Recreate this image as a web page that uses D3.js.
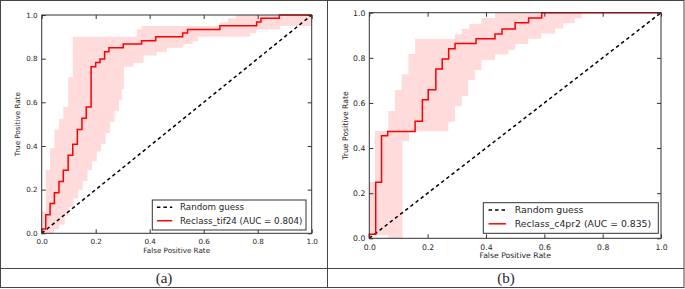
<!DOCTYPE html>
<html>
<head>
<meta charset="utf-8">
<script src="https://cdn.jsdelivr.net/npm/d3@7"></script>
<style>
  body { margin: 0; background: #fff; }
  text { font-family: "DejaVu Sans", sans-serif; fill: #262626; }
</style>
</head>
<body>
<div id="chart"></div>
<script>
// axis ticks shared by both panels
const axisTicks = [0, 0.2, 0.4, 0.6, 0.8, 1.0];

// (a) Reclass_tif24 - mean ROC (step points: fpr, tpr after the jump)
const fprA = [0, 0, 0.015, 0.031, 0.047, 0.064, 0.08, 0.098, 0.115, 0.132, 0.149, 0.165, 0.183, 0.2, 0.216, 0.233, 0.249, 0.302, 0.37, 0.422, 0.522, 0.54, 0.66, 0.796, 0.812, 0.88, 1];
const tprA = [0, 0.02, 0.085, 0.137, 0.186, 0.237, 0.289, 0.357, 0.408, 0.476, 0.527, 0.579, 0.763, 0.782, 0.798, 0.832, 0.85, 0.867, 0.882, 0.9, 0.917, 0.934, 0.951, 0.968, 0.985, 1, 1];
// (a) std band
const upFprA = [0, 0.015, 0.031, 0.047, 0.064, 0.08, 0.098, 0.115, 0.352, 0.37, 0.66, 0.69, 0.72, 1];
const upTprA = [0.1, 0.29, 0.39, 0.475, 0.525, 0.58, 0.715, 0.9, 0.935, 0.95, 0.967, 0.985, 1, 1];
const loFprA = [0, 0.045, 0.065, 0.085, 0.1, 0.117, 0.135, 0.152, 0.17, 0.186, 0.204, 0.22, 0.237, 0.253, 0.27, 0.286, 0.297, 0.305, 0.34, 0.377, 0.426, 0.463, 0.525, 0.559, 0.579, 0.772, 0.796, 0.883, 1];
const loTprA = [0, 0.02, 0.04, 0.08, 0.12, 0.16, 0.2, 0.24, 0.29, 0.33, 0.375, 0.41, 0.46, 0.51, 0.56, 0.61, 0.66, 0.763, 0.78, 0.815, 0.83, 0.85, 0.867, 0.88, 0.9, 0.917, 0.935, 0.95, 0.95];

// (b) Reclass_c4pr2 - mean ROC
const fprB = [0, 0, 0.022, 0.042, 0.063, 0.157, 0.182, 0.202, 0.228, 0.25, 0.272, 0.294, 0.366, 0.431, 0.455, 0.5, 0.546, 0.591, 1];
const tprB = [0, 0.018, 0.248, 0.455, 0.473, 0.519, 0.614, 0.659, 0.75, 0.795, 0.84, 0.863, 0.885, 0.906, 0.928, 0.955, 0.976, 1, 1];
// (b) std band
const upFprB = [0, 0.019, 0.065, 0.088, 0.111, 0.134, 0.157, 0.294, 0.317, 0.343, 0.385, 0.431, 1];
const upTprB = [0.25, 0.476, 0.564, 0.657, 0.727, 0.817, 0.885, 0.905, 0.929, 0.951, 0.976, 1, 1];
const loFprB = [0, 0.065, 0.114, 0.136, 0.271, 0.294, 0.317, 0.339, 0.362, 0.385, 0.431, 0.477, 0.5, 0.545, 0.59, 0.637, 0.665, 0.705, 0.728, 1];
const loTprB = [0.015, 0, 0.43, 0.475, 0.517, 0.586, 0.631, 0.702, 0.746, 0.79, 0.815, 0.835, 0.861, 0.885, 0.908, 0.93, 0.953, 0.975, 1, 1];

const legendLabels = ["Random guess", "Reclass_tif24 (AUC = 0.804)", "Reclass_c4pr2 (AUC = 0.835)"];
const captions = ["(a)", "(b)"];

const W = 685, H = 289;

const svg = d3.select("#chart").append("svg")
    .attr("width", W)
    .attr("height", H);

svg.append("rect").attr("width", W).attr("height", H).attr("fill", "#fff");

// table frame around the two figures
const frame = svg.append("g").attr("stroke", "#444").attr("stroke-width", 1).attr("fill", "none");
frame.append("rect").attr("x", 0.5).attr("y", 0.5).attr("width", 683.5).attr("height", 287);
frame.append("line").attr("x1", 327.5).attr("x2", 327.5).attr("y1", 0.5).attr("y2", 287.5);
frame.append("line").attr("x1", 0.5).attr("x2", 684).attr("y1", 268.5).attr("y2", 268.5);

// turn step points into polygon vertices
function stepVertices(xs, ys) {
    const out = [];
    xs.forEach((x, i) => {
        out.push([x, ys[i]]);
        if (i + 1 < xs.length) out.push([xs[i + 1], ys[i]]);
    });
    return out;
}

const panels = [
    { left: 41.7, right: 311.7, top: 15, bottom: 233.3, fs: 7.2, lfs: 8.7,
      fpr: fprA, tpr: tprA, up: [upFprA, upTprA], lo: [loFprA, loTprA], label: legendLabels[1],
      legend: { x: 152.3, y: 200, w: 153.7, h: 30 }, cell: [1, 327] , caption: captions[0] },
    { left: 369.3, right: 661, top: 12.7, bottom: 238.3, fs: 7.7, lfs: 9.3,
      fpr: fprB, tpr: tprB, up: [upFprB, upTprB], lo: [loFprB, loTprB], label: legendLabels[2],
      legend: { x: 483.3, y: 202.7, w: 175, h: 30.6 }, cell: [328, 684], caption: captions[1] }
];

panels.forEach(p => {
    const g = svg.append("g");
    const x = d3.scaleLinear().domain([0, 1]).range([p.left, p.right]);
    const y = d3.scaleLinear().domain([0, 1]).range([p.bottom, p.top]);

    // std band
    const upper = stepVertices(p.up[0], p.up[1]);
    const lower = stepVertices(p.lo[0], p.lo[1]).reverse();
    g.append("path")
        .datum(upper.concat(lower))
        .attr("fill", "#ff0000")
        .attr("fill-opacity", 0.14)
        .attr("stroke", "none")
        .attr("d", d => d3.line().x(v => x(v[0])).y(v => y(v[1]))(d) + "Z");

    // random guess diagonal
    g.append("line")
        .attr("x1", x(0)).attr("y1", y(0))
        .attr("x2", x(1)).attr("y2", y(1))
        .attr("stroke", "#000")
        .attr("stroke-width", 1.5)
        .attr("stroke-dasharray", "3.5,3");

    // mean ROC curve
    g.append("path")
        .datum(p.fpr.map((f, i) => [f, p.tpr[i]]))
        .attr("fill", "none")
        .attr("stroke", "#ff0000")
        .attr("stroke-width", 1.5)
        .attr("d", d3.line().curve(d3.curveStepAfter).x(v => x(v[0])).y(v => y(v[1])));

    // axes, ticks pointing inward on all sides
    const fmt = d3.format(".1f");
    const bottomAxis = g.append("g")
        .attr("transform", `translate(0,${p.bottom})`)
        .call(d3.axisBottom(x).tickValues(axisTicks).tickFormat(fmt).tickSizeInner(-4).tickSizeOuter(0).tickPadding(6));
    const leftAxis = g.append("g")
        .attr("transform", `translate(${p.left},0)`)
        .call(d3.axisLeft(y).tickValues(axisTicks).tickFormat(fmt).tickSizeInner(-4).tickSizeOuter(0).tickPadding(4));
    g.append("g")
        .attr("transform", `translate(0,${p.top})`)
        .call(d3.axisTop(x).tickValues(axisTicks).tickFormat("").tickSizeInner(-4).tickSizeOuter(0));
    g.append("g")
        .attr("transform", `translate(${p.right},0)`)
        .call(d3.axisRight(y).tickValues(axisTicks).tickFormat("").tickSizeInner(-4).tickSizeOuter(0));

    g.selectAll(".domain").remove();
    g.selectAll(".tick line").attr("stroke", "#333");
    g.selectAll(".tick text")
        .style("font-family", "DejaVu Sans")
        .style("font-size", p.fs + "px")
        .attr("fill", "#262626");

    g.append("rect")
        .attr("x", p.left).attr("y", p.top)
        .attr("width", p.right - p.left).attr("height", p.bottom - p.top)
        .attr("fill", "none")
        .attr("stroke", "#333")
        .attr("stroke-width", 1);

    // axis titles
    g.append("text")
        .attr("x", (p.left + p.right) / 2)
        .attr("y", p.bottom + 20)
        .attr("text-anchor", "middle")
        .style("font-size", p.fs + "px")
        .text("False Positive Rate");

    g.append("text")
        .attr("transform", `translate(${p.left - 21.5},${(p.top + p.bottom) / 2}) rotate(-90)`)
        .attr("text-anchor", "middle")
        .style("font-size", p.fs + "px")
        .text("True Positive Rate");

    // legend
    const L = p.legend;
    const lg = g.append("g").attr("transform", `translate(${L.x},${L.y})`);
    lg.append("rect")
        .attr("width", L.w).attr("height", L.h)
        .attr("fill", "#fff")
        .attr("stroke", "#333")
        .attr("stroke-width", 1);
    const rows = [L.h * 0.24, L.h * 0.69];
    const lineW = L.w * 0.1, textX = L.w * 0.18;
    lg.append("line")
        .attr("x1", L.w * 0.03).attr("x2", L.w * 0.03 + lineW)
        .attr("y1", rows[0]).attr("y2", rows[0])
        .attr("stroke", "#000").attr("stroke-width", 1.5)
        .attr("stroke-dasharray", "3.5,3");
    lg.append("line")
        .attr("x1", L.w * 0.03).attr("x2", L.w * 0.03 + lineW)
        .attr("y1", rows[1]).attr("y2", rows[1])
        .attr("stroke", "#ff0000").attr("stroke-width", 1.5);
    [legendLabels[0], p.label].forEach((t, i) => {
        lg.append("text")
            .attr("x", textX)
            .attr("y", rows[i])
            .attr("dy", "0.35em")
            .style("font-size", p.lfs + "px")
            .text(t);
    });

    // caption
    svg.append("text")
        .attr("x", (p.cell[0] + p.cell[1]) / 2)
        .attr("y", 283)
        .attr("text-anchor", "middle")
        .style("font-family", "'Liberation Serif', serif")
        .style("font-size", "15px")
        .attr("fill", "#000")
        .text(p.caption);
});
</script>
</body>
</html>
